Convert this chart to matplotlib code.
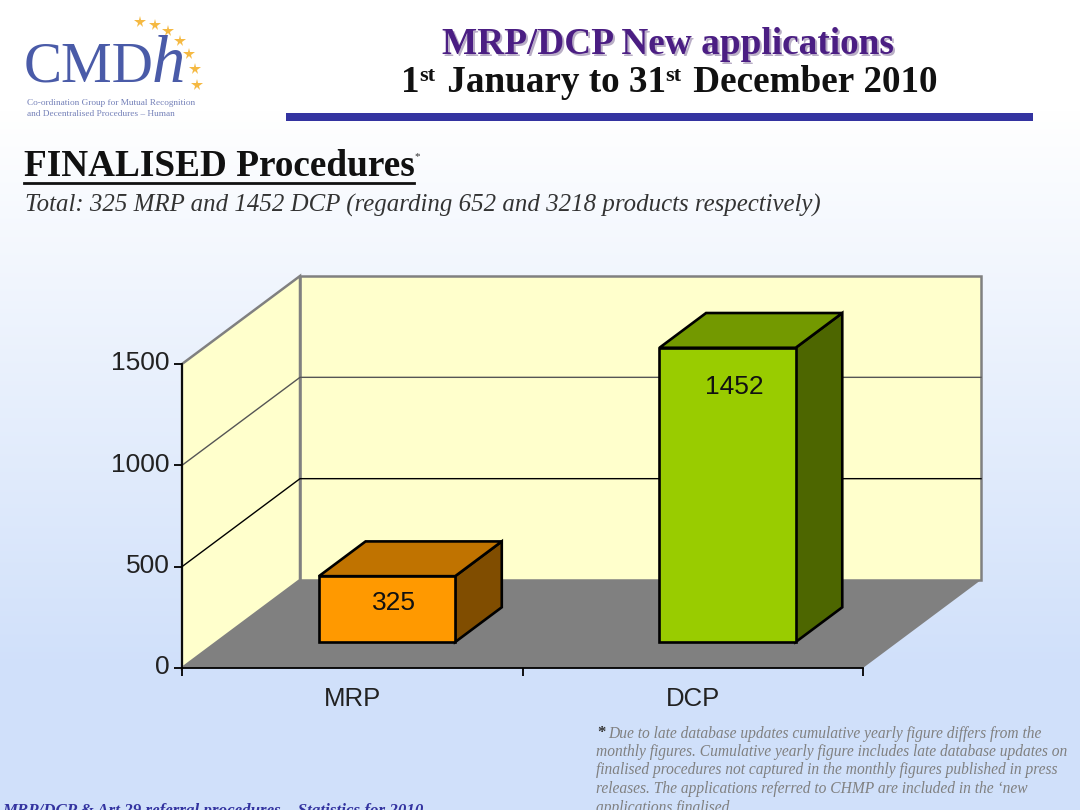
import numpy as np
import matplotlib
matplotlib.use("Agg")
import matplotlib.pyplot as plt
from matplotlib.patches import Polygon
from matplotlib.transforms import ScaledTranslation

categories = ["MRP", "DCP"]
values = [325, 1452]
label_drop = [133, 192]
front_colors = ["#FF9900", "#99CC00"]
top_colors = ["#C07300", "#739900"]
side_colors = ["#804D00", "#4D6600"]
y_ticks = [0, 500, 1000, 1500]

title1 = "MRP/DCP New applications"
title2_parts = [("1", 0), ("st", 1), (" January to 31", 0), ("st", 1), (" December 2010", 0)]
heading = "FINALISED Procedures"
subtitle = "Total: 325 MRP and 1452 DCP (regarding 652 and 3218 products respectively)"
footnote = ["Due to late database updates cumulative yearly figure differs from the",
            "monthly figures. Cumulative yearly figure includes late database updates on",
            "finalised procedures not captured in the monthly figures published in press",
            "releases. The applications referred to CHMP are included in the \u2018new",
            "applications finalised"]
footer = "MRP/DCP & Art 29 referral procedures \u2013 Statistics for 2010"
logo_lines = ["Co-ordination Group for Mutual Recognition",
              "and Decentralised Procedures \u2013 Human"]

W, H = 1080, 810
plt.rcParams["font.family"] = ["Liberation Sans", "DejaVu Sans"]
fig = plt.figure(figsize=(W / 100, H / 100), dpi=100)

# background gradient
bg = fig.add_axes([0, 0, 1, 1], zorder=0)
bg.set_xlim(0, W); bg.set_ylim(H, 0); bg.axis("off")
grad = np.ones((H, 1, 3))
t = np.clip((np.arange(H) - 110) / 560, 0, 1)[:, None]
grad[:, :, 0] = 1 + (208 / 255 - 1) * t
grad[:, :, 1] = 1 + (224 / 255 - 1) * t
grad[:, :, 2] = 1 + (250 / 255 - 1) * t
bg.imshow(grad, extent=(0, W, H, 0), aspect="auto", zorder=0)

# chart axes: front plane of the 3D box
L, R, T, B = 182, 863, 364, 668
ax = fig.add_axes([L / W, 1 - B / H, (R - L) / W, (B - T) / H], zorder=1)
ax.patch.set_visible(False)
ax.set_xlim(0, 2); ax.set_ylim(0, 1500)
dx = 118 / (R - L) * 2
dy = 88 / (B - T) * 1500
WALL = "#FFFFCC"; EDGE = "#808080"

def poly(pts, fc, ec="none", lw=0, z=1):
    ax.add_patch(Polygon(pts, closed=True, fc=fc, ec=ec, lw=lw, zorder=z,
                         clip_on=False, joinstyle="miter"))

ymax = y_ticks[-1]
poly([(dx, dy), (2 + dx, dy), (2 + dx, ymax + dy), (dx, ymax + dy)], WALL, EDGE, 1.8)
poly([(0, 0), (dx, dy), (dx, ymax + dy), (0, ymax)], WALL, EDGE, 1.8)
poly([(0, 0), (2, 0), (2 + dx, dy), (dx, dy)], "#808080", z=1.5)
for v in y_ticks[1:-1]:
    c = "black" if v == 500 else "#555555"
    ax.plot([0, dx, 2 + dx], [v, v + dy, v + dy], color=c, lw=1, clip_on=False, zorder=1.2)

f0, f1 = 0.295, 0.69
bw = 0.40
for i, (cat, val) in enumerate(zip(categories, values)):
    c = i + 0.5
    x0 = c - bw / 2 + f0 * dx
    x1 = c + bw / 2 + f0 * dx
    y0 = f0 * dy
    ox, oy = (f1 - f0) * dx, (f1 - f0) * dy
    y1 = y0 + val
    ec = dict(ec="black", lw=1.9, z=3)
    poly([(x1, y0), (x1 + ox, y0 + oy), (x1 + ox, y1 + oy), (x1, y1)], side_colors[i], **ec)
    poly([(x0, y1), (x1, y1), (x1 + ox, y1 + oy), (x0 + ox, y1 + oy)], top_colors[i], **ec)
    poly([(x0, y0), (x1, y0), (x1, y1), (x0, y1)], front_colors[i], **ec)
    ax.text((x0 + x1) / 2 + 0.02, y1 - label_drop[i], str(val), ha="center", va="center",
            fontsize=19, color="#111111", zorder=4, clip_on=False)

for s in ("top", "right"):
    ax.spines[s].set_visible(False)
for s in ("left", "bottom"):
    ax.spines[s].set_linewidth(1.3)
    ax.spines[s].set_zorder(5)
ax.set_yticks(y_ticks)
ax.set_xticks([0, 1, 2]); ax.set_xticklabels([])
ax.set_xticks([0.5, 1.5], minor=True)
ax.set_xticklabels(categories, minor=True)
ax.tick_params(axis="y", length=6, width=1.3, labelsize=19, pad=3, labelcolor="#222222")
ax.tick_params(axis="x", which="major", length=6, width=1.3)
ax.tick_params(axis="x", which="minor", length=0, labelsize=18.5, pad=14, labelcolor="#222222")
up = ScaledTranslation(0, 3 / 100, fig.dpi_scale_trans)
for lab in ax.get_yticklabels():
    lab.set_transform(lab.get_transform() + up)

# overlay text in pixel space
ov = fig.add_axes([0, 0, 1, 1], zorder=2)
ov.set_xlim(0, W); ov.set_ylim(H, 0); ov.axis("off")
serif = ["Liberation Serif", "DejaVu Serif"]

ov.text(669.5, 46, title1, color="#B9AEC6", fontsize=26.8, family=serif, weight="bold",
        ha="center", va="center")
ov.text(668, 44.5, title1, color="#4B1E83", fontsize=26.8, family=serif, weight="bold",
        ha="center", va="center")

rend = fig.canvas.get_renderer()
xpos = 401.0
for part, is_sup in title2_parts:
    s = part.replace(" ", "\u00a0")
    tx = ov.text(xpos, 92 - (11 if is_sup else 0), s, color="#111111",
                 fontsize=16 if is_sup else 26.7, family=serif, weight="bold",
                 ha="left", va="baseline")
    xpos += tx.get_window_extent(rend).width + (2 if is_sup else 0)

ov.fill_between([286, 1033], 113, 121, color="#3333A0", lw=0)

ov.text(24, 167, heading, color="#111111", fontsize=26.8, family=serif, weight="bold",
        ha="left", va="center")
ov.plot([24, 414], [183, 183], color="#111111", lw=2)
ov.text(414, 157, "*", color="#333333", fontsize=8, family=serif, ha="left", va="center")
ov.text(25, 205.5, subtitle, color="#333333", fontsize=17.9, family=serif, style="italic",
        ha="left", va="center")

# logo
ov.text(24, 68, "CMD", color="#4A5BA8", fontsize=41, family=serif, ha="left", va="center")
ov.text(152, 65, "h", color="#4A5BA8", fontsize=48, family=serif, style="italic",
        ha="left", va="center")
star_x = [140, 155, 168, 180, 189, 195, 197]
star_y = [22, 25, 31, 41, 54, 69, 85]
ov.plot(star_x, star_y, ls="none", marker="*", ms=8.5, color="#F5B942", mew=0)
ov.text(27, 103, logo_lines[0], color="#7480B8", fontsize=6.7, family=serif, ha="left", va="center")
ov.text(27, 114, logo_lines[1], color="#7480B8", fontsize=6.7, family=serif, ha="left", va="center")

# footnote
ov.text(597, 733, "*", color="#333333", fontsize=12, family=serif, weight="bold",
        ha="left", va="center")
line_y = [734, 752, 770.5, 789, 807.5]
for i, (ln, yy) in enumerate(zip(footnote, line_y)):
    ov.text(608 if i == 0 else 596, yy, ln, color="#808080", fontsize=11.2, family=serif,
            style="italic", ha="left", va="center", clip_on=True)

ov.text(2, 811, footer, color="#3333A0", fontsize=12.2, family=serif, style="italic",
        weight="bold", ha="left", va="center", clip_on=True)

fig.savefig("out.png", dpi=100)
